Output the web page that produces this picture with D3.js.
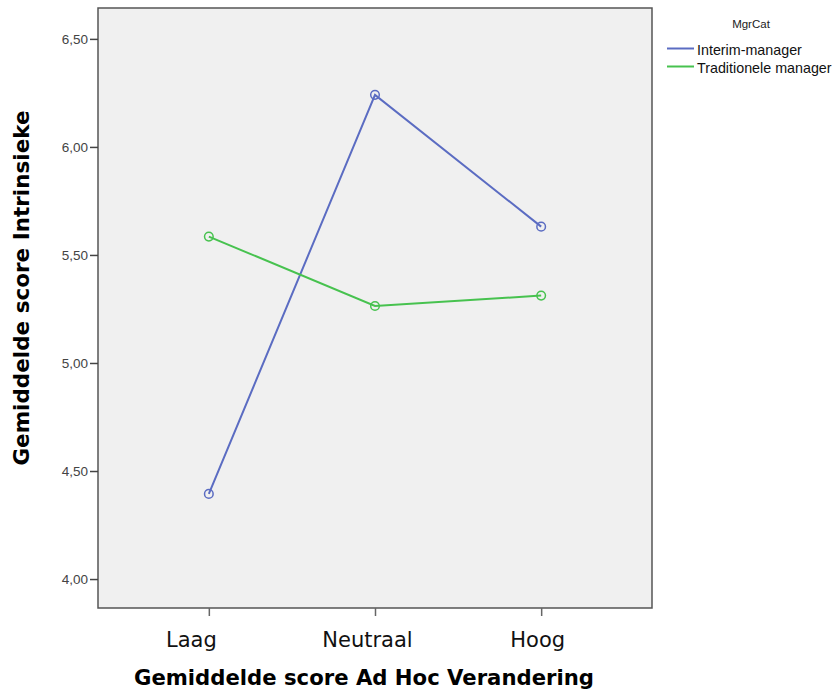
<!DOCTYPE html>
<html><head><meta charset="utf-8">
<script src="https://cdn.jsdelivr.net/npm/d3@7"></script>
<style>body{margin:0;background:#fff}svg{display:block}</style>
</head><body>
<svg id="c" width="834" height="690"></svg>
<script>
const categories = ["Laag", "Neutraal", "Hoog"];
const seriesNames = ["Interim-manager", "Traditionele manager"];
const interim = [4.394, 6.241, 5.631];
const traditioneel = [5.585, 5.264, 5.312];
const yTicks = [4.0, 4.5, 5.0, 5.5, 6.0, 6.5];
const colors = ["#5b6cc2", "#47c24f"];

const svg = d3.select("#c");
const L = 98, R = 652, T = 8, B = 608;
const x = d3.scalePoint().domain(categories).range([L, R]).padding(0.667);
const y = d3.scaleLinear().domain([3.866, 6.643]).range([B, T]);

svg.append("rect").attr("x", L).attr("y", T).attr("width", R - L).attr("height", B - T)
  .attr("fill", "#f0f0f0").attr("stroke", "#555").attr("stroke-width", 1.5);

const yAxis = svg.append("g").attr("transform", `translate(${L},0)`)
  .call(d3.axisLeft(y).tickValues(yTicks).tickSize(8).tickPadding(2)
    .tickFormat(d => d3.format(".2f")(d).replace(".", ",")));
yAxis.select(".domain").remove();
yAxis.selectAll("line").attr("stroke", "#444").attr("stroke-width", 1.5);
yAxis.selectAll("text").attr("font-family", "Liberation Sans, Arial, sans-serif").attr("font-size", 13.5).attr("fill", "#444");

const labelShift = [-18, -8, -4];
const xAxis = svg.append("g").attr("transform", `translate(0,${B})`)
  .call(d3.axisBottom(x).tickSize(8).tickPadding(16));
xAxis.select(".domain").remove();
xAxis.selectAll("line").attr("stroke", "#666").attr("stroke-width", 1.5);
xAxis.selectAll("text").attr("font-family", "DejaVu Sans, Verdana, sans-serif").attr("font-size", 21).attr("fill", "#111")
  .attr("dx", (d, i) => labelShift[i]);

const series = [interim, traditioneel];
const line = d3.line().x((d, i) => x(categories[i])).y(d => y(d));
series.forEach((s, k) => {
  svg.append("path").attr("d", line(s)).attr("fill", "none").attr("stroke", colors[k]).attr("stroke-width", 2);
  svg.selectAll(null).data(s).enter().append("circle")
    .attr("cx", (d, i) => x(categories[i])).attr("cy", d => y(d)).attr("r", 4.3)
    .attr("fill", "none").attr("stroke", colors[k]).attr("stroke-width", 1.5);
});

svg.append("text").attr("transform", `translate(29,288) rotate(-90)`).attr("text-anchor", "middle")
  .attr("font-family", "DejaVu Sans, Verdana, sans-serif").attr("font-weight", "bold").attr("font-size", 21.5)
  .attr("fill", "#000").text("Gemiddelde score Intrinsieke");
svg.append("text").attr("x", 364).attr("y", 685).attr("text-anchor", "middle")
  .attr("font-family", "DejaVu Sans, Verdana, sans-serif").attr("font-weight", "bold").attr("font-size", 21.2)
  .attr("fill", "#000").text("Gemiddelde score Ad Hoc Verandering");

svg.append("text").attr("x", 751).attr("y", 28).attr("text-anchor", "middle")
  .attr("font-family", "Liberation Sans Narrow, Liberation Sans, Arial, sans-serif").attr("font-size", 11.5)
  .attr("fill", "#222").text("MgrCat");
seriesNames.forEach((n, k) => {
  const ly = 48.5 + k * 18;
  svg.append("line").attr("x1", 667).attr("x2", 694).attr("y1", ly).attr("y2", ly)
    .attr("stroke", colors[k]).attr("stroke-width", 2);
  svg.append("text").attr("x", 697).attr("y", ly + 6.5)
    .attr("font-family", "Liberation Sans, Arial, sans-serif").attr("font-size", 14.3).attr("fill", "#111").text(n);
});
</script>
</body></html>
